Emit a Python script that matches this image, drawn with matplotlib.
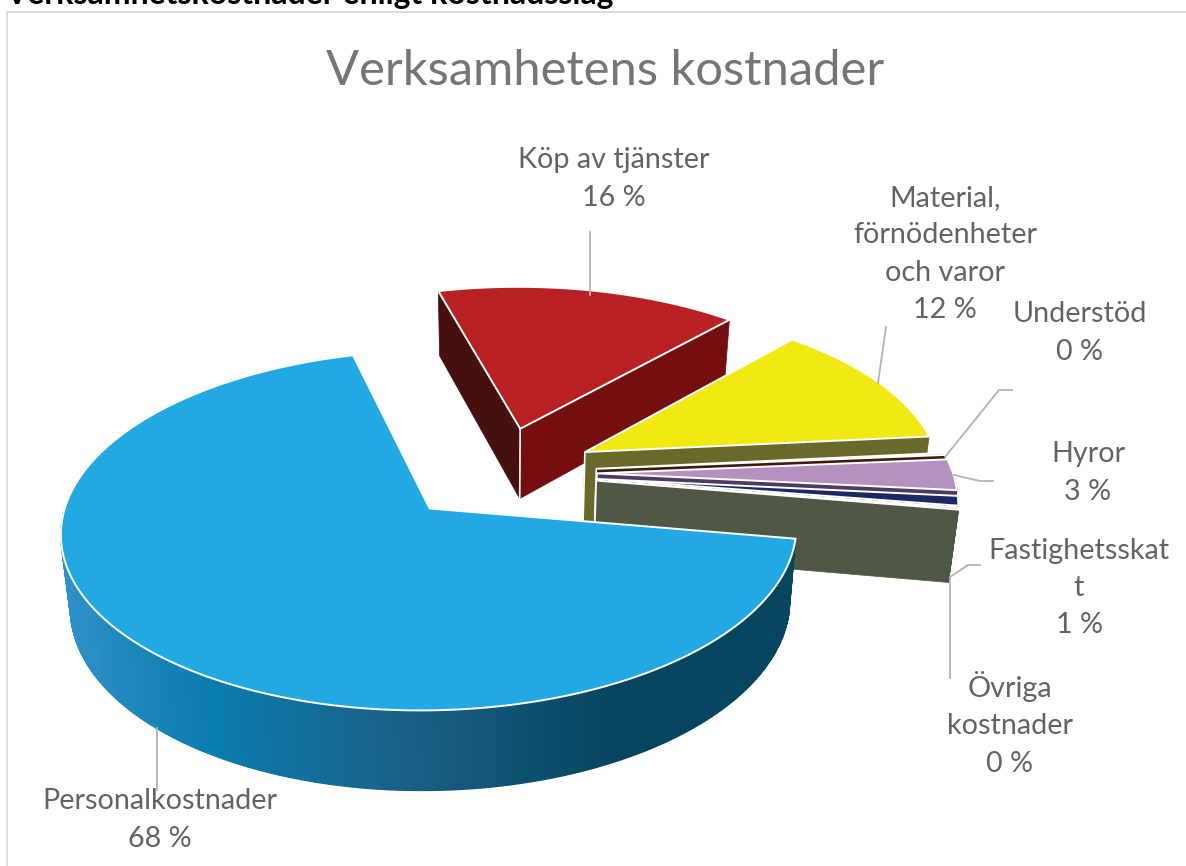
import numpy as np
import matplotlib
matplotlib.use("Agg")
import matplotlib.pyplot as plt

plt.rcParams['font.family'] = ['Lato', 'DejaVu Sans']

# Data
labels = ["Personalkostnader", "Köp av tjänster", "Material,\nförnödenheter\noch varor",
          "Understöd", "Hyror", "Fastighetsskat\nt", "Övriga\nkostnader"]
values = [68.2, 15.7, 11.9, 0.2, 2.9, 0.9, 0.2]

top_colors = ['#22a8e2', '#b92023', '#f1e911', '#3c1a0c', '#b591c0', '#1c2a63', '#5d6a50']
side_colors = ['#06455f', '#740e10', '#686a2c', '#3c1a0c', '#4e3a63', '#141e48', '#4f5845']
back_side_colors = ['#06455f', '#45100e', '#686a2c', '#3c1a0c', '#4e3a63', '#141e48', '#4f5845']

# Gradient along the front wall of the big slice (angle in degrees, colour)
wall_angles = [180, 210, 240, 268, 298, 360]
wall_cols = ['#2b93cc', '#2a8dc4', '#0a7cae', '#1a5f85', '#06455f', '#06455f']

# Geometry of the pie, in pixels
START = -9.6
CX, CY = 498, 473
R, RY = 356, 168.7
K = 0.119
EXPLODE = 0.278
DEPTH = 71.5
SHRINK = 0.022


def project(x, y, z=0.0):
    den = 1 + K * np.asarray(y)
    px = CX + R * np.asarray(x) / den * (1 - SHRINK * z)
    py = CY - RY * np.asarray(y) / den + DEPTH * z / den ** 0.73
    return px, py


def hex2rgb(c):
    return np.array([int(c[i:i + 2], 16) / 255 for i in (1, 3, 5)])


def wall_color(deg):
    stops = np.array([hex2rgb(c) for c in wall_cols])
    return [np.interp(deg % 360, wall_angles, stops[:, i]) for i in range(3)]


fig = plt.figure(figsize=(11.86, 8.66), dpi=100)
ax = fig.add_axes([0, 0, 1, 1])
ax.set_xlim(0, 1186)
ax.set_ylim(866, 0)
ax.axis('off')

# Frame and cut-off heading from the page
ax.plot([7, 7, 1186], [866, 12, 12], color='#d9d9d9', lw=1.3)
ax.text(5, 4, "Verksamhetskostnader enligt kostnadsslag", fontsize=23, fontweight='bold',
        color='black', ha='left', va='baseline')
ax.text(605, 71, "Verksamhetens kostnader", fontsize=35.2, color='#757575', ha='center', va='center')

# Slice angles, clockwise from START
ends = START - np.cumsum(values) * 3.6
starts = np.r_[START, ends[:-1]]
order = [1, 2, 3, 4, 5, 6, 0]

for i in order:
    a0, a1 = starts[i], ends[i]
    mid = np.radians((a0 + a1) / 2)
    ox, oy = EXPLODE * np.cos(mid), EXPLODE * np.sin(mid)
    th = np.radians(np.linspace(a0, a1, max(int(abs(a1 - a0) * 2), 4)))
    ax_x = ox + np.cos(th)
    ax_y = oy + np.sin(th)

    # radial side faces
    for j, col in ((0, back_side_colors[i]), (-1, side_colors[i])):
        ex, ey = ax_x[j], ax_y[j]
        xs = [ox, ex, ex, ox]
        ys = [oy, ey, ey, oy]
        zs = [0, 0, 1, 1]
        px, py = zip(*[project(a, b, c) for a, b, c in zip(xs, ys, zs)])
        ax.fill(px, py, color=col, lw=0.5, zorder=2)
    if i != 0:
        p0 = project(ox, oy, 0)
        p1 = project(ox, oy, 1)
        ax.plot([p0[0], p1[0]], [p0[1], p1[1]], color='white', lw=1.2, zorder=2)

    # outer wall, only where it faces the viewer
    for n in range(len(th) - 1):
        if np.sin((th[n] + th[n + 1]) / 2) > 0:
            continue
        col = wall_color(np.degrees((th[n] + th[n + 1]) / 2)) if i == 0 else side_colors[i]
        xs = [ax_x[n], ax_x[n + 1], ax_x[n + 1], ax_x[n]]
        ys = [ax_y[n], ax_y[n + 1], ax_y[n + 1], ax_y[n]]
        zs = [0, 0, 1, 1]
        px, py = zip(*[project(a, b, c) for a, b, c in zip(xs, ys, zs)])
        ax.fill(px, py, color=col, lw=1.0, zorder=2)

    # top face
    tx, ty = project(np.r_[ox, ax_x], np.r_[oy, ax_y])
    ax.fill(tx, ty, facecolor=top_colors[i], edgecolor='white', lw=1.4, joinstyle='miter', zorder=2)

# Leader lines
leaders = [
    ([590, 590], [232, 295]),
    ([886, 878], [327, 383]),
    ([1012, 999, 945], [390, 390, 457]),
    ([993, 980, 954], [481, 481, 475]),
    ([980, 968, 950], [565, 565, 577]),
    ([950, 950], [578, 678]),
    ([157, 157], [728, 790]),
]
for lx, ly in leaders:
    ax.plot(lx, ly, color='#b3b3b3', lw=1.3, zorder=3)

# Data labels
label_pos = [(160, 820), (614, 179), (945, 254), (1080, 333), (1088, 473), (1079, 588), (1010, 724)]
for name, v, (x, y) in zip(labels, values, label_pos):
    ax.text(x, y, f"{name}\n{round(v)} %", fontsize=20.7, color='#636363', ha='center', va='center',
            linespacing=1.53, zorder=4)

fig.savefig('out.png', dpi=100)
